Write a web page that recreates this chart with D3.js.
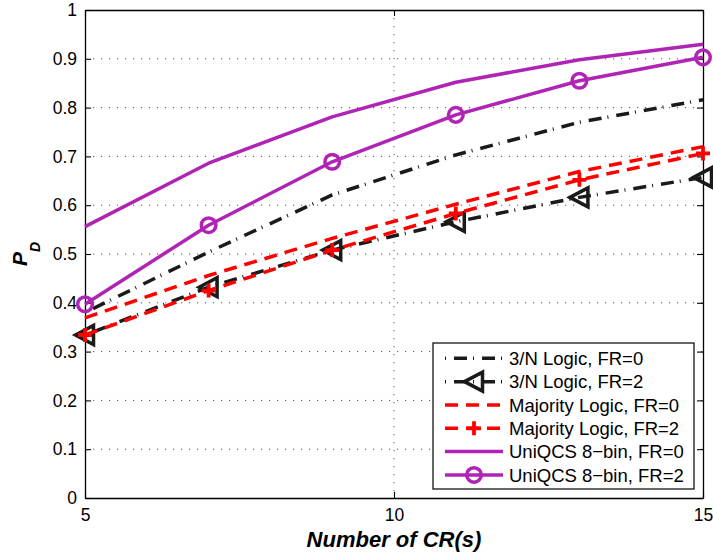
<!DOCTYPE html>
<html>
<head>
<meta charset="utf-8">
<script src="https://cdn.jsdelivr.net/npm/d3@7"></script>
<style>
  html, body { margin: 0; padding: 0; background: #fff; }
  svg { display: block; font-family: "Liberation Sans", Arial, Helvetica, sans-serif; }
</style>
</head>
<body>
<svg id="chart" width="713" height="559"></svg>
<script>
// Number of cognitive radios on the x axis
const crs = [5, 7, 9, 11, 13, 15];

// Detection probability per fusion rule
const logic3Fr0 = [0.380, 0.504, 0.621, 0.703, 0.770, 0.816];
const logic3Fr2 = [0.334, 0.432, 0.508, 0.566, 0.616, 0.657];
const majorityFr0 = [0.369, 0.456, 0.532, 0.602, 0.669, 0.720];
const majorityFr2 = [0.334, 0.425, 0.508, 0.583, 0.652, 0.706];
const uniqcsFr0 = [0.556, 0.686, 0.781, 0.852, 0.898, 0.930];
const uniqcsFr2 = [0.397, 0.559, 0.689, 0.785, 0.855, 0.903];

const seriesNames = [
  "3/N Logic, FR=0",
  "3/N Logic, FR=2",
  "Majority Logic, FR=0",
  "Majority Logic, FR=2",
  "UniQCS 8\u2212bin, FR=0",
  "UniQCS 8\u2212bin, FR=2"
];

const xTickValues = [5, 10, 15];
const yTickValues = [0, 0.1, 0.2, 0.3, 0.4, 0.5, 0.6, 0.7, 0.8, 0.9, 1];
const xTitle = "Number of CR(s)";

const BLACK = "#1a1a1a", RED = "#ff0000", PURPLE = "#b024b5";
const DASHDOT = "1,8,13,6", DASHED = "13,8";
const LW = 3.5;

const series = [
  { name: seriesNames[0], values: logic3Fr0, color: BLACK, dash: DASHDOT, marker: null },
  { name: seriesNames[1], values: logic3Fr2, color: BLACK, dash: DASHDOT, marker: "tri" },
  { name: seriesNames[2], values: majorityFr0, color: RED, dash: DASHED, marker: null },
  { name: seriesNames[3], values: majorityFr2, color: RED, dash: DASHED, marker: "plus" },
  { name: seriesNames[4], values: uniqcsFr0, color: PURPLE, dash: null, marker: null },
  { name: seriesNames[5], values: uniqcsFr2, color: PURPLE, dash: null, marker: "circle" }
];

const L = 85, R = 703, T = 10, B = 498;
const svg = d3.select("#chart");

const x = d3.scaleLinear().domain([5, 15]).range([L, R]);
const y = d3.scaleLinear().domain([0, 1]).range([B, T]);

// dotted grid
const grid = svg.append("g").attr("stroke", "#555").attr("stroke-width", 1)
  .attr("stroke-dasharray", "1.2,6.8");
grid.selectAll(".gy").data(yTickValues.filter(v => v > 0 && v < 1)).join("line")
  .attr("x1", L).attr("x2", R).attr("y1", d => y(d)).attr("y2", d => y(d));
grid.selectAll(".gx").data(xTickValues.filter(v => v > 5 && v < 15)).join("line")
  .attr("y1", T).attr("y2", B).attr("x1", d => x(d)).attr("x2", d => x(d));

// axes with inward ticks on all four sides
const fmtY = d => (d === 0 || d === 1) ? String(d) : d3.format(".1f")(d);
const axes = [
  svg.append("g").attr("transform", `translate(${L},0)`)
    .call(d3.axisLeft(y).tickValues(yTickValues).tickFormat(fmtY).tickSizeInner(-6).tickSizeOuter(0).tickPadding(8)),
  svg.append("g").attr("transform", `translate(0,${B})`)
    .call(d3.axisBottom(x).tickValues(xTickValues).tickFormat(d3.format("d")).tickSizeInner(-6).tickSizeOuter(0).tickPadding(11)),
  svg.append("g").attr("transform", `translate(${R},0)`)
    .call(d3.axisRight(y).tickValues(yTickValues).tickFormat("").tickSizeInner(-6).tickSizeOuter(0)),
  svg.append("g").attr("transform", `translate(0,${T})`)
    .call(d3.axisTop(x).tickValues(xTickValues).tickFormat("").tickSizeInner(-6).tickSizeOuter(0))
];
axes.forEach(g => {
  g.select(".domain").attr("stroke", "#000").attr("stroke-width", 1.3);
  g.selectAll(".tick line").attr("stroke", "#000").attr("stroke-width", 1.1);
  g.selectAll(".tick text").attr("fill", "#000").style("font-size", "17.5px")
    .style("font-family", "'Liberation Sans', Arial, sans-serif");
});

// marker shapes
function drawMarker(sel, type, color) {
  if (type === "tri") {
    sel.append("path").attr("d", "M-9.5,0L8.5,-9.5L8.5,9.5Z")
      .attr("fill", "none").attr("stroke", color).attr("stroke-width", LW).attr("stroke-linejoin", "miter");
  } else if (type === "plus") {
    sel.append("path").attr("d", "M-7,0H7M0,-7V7")
      .attr("fill", "none").attr("stroke", color).attr("stroke-width", 3.8);
  } else if (type === "circle") {
    sel.append("circle").attr("r", 7.3)
      .attr("fill", "none").attr("stroke", color).attr("stroke-width", LW);
  }
}

// lines and markers
const line = d3.line().x((d, i) => x(crs[i])).y(d => y(d));
const plot = svg.append("g");
series.forEach(s => {
  plot.append("path").datum(s.values).attr("d", line)
    .attr("fill", "none").attr("stroke", s.color).attr("stroke-width", LW)
    .attr("stroke-dasharray", s.dash).attr("stroke-linejoin", "round");
  if (s.marker) {
    s.values.forEach((v, i) => {
      const m = plot.append("g").attr("transform", `translate(${x(crs[i])},${y(v)})`);
      drawMarker(m, s.marker, s.color);
    });
  }
});

// legend
const lg = svg.append("g");
lg.append("rect").attr("x", 433).attr("y", 343).attr("width", 261).attr("height", 146)
  .attr("fill", "#fff").attr("stroke", "#000").attr("stroke-width", 1.2);
series.forEach((s, i) => {
  const cy = 358.3 + i * 23.33;
  lg.append("line").attr("x1", 445).attr("x2", 503).attr("y1", cy).attr("y2", cy)
    .attr("stroke", s.color).attr("stroke-width", LW).attr("stroke-dasharray", s.dash);
  if (s.marker) {
    const m = lg.append("g").attr("transform", `translate(474,${cy})`);
    drawMarker(m, s.marker, s.color);
  }
  lg.append("text").attr("x", 509).attr("y", cy).attr("dy", "0.36em")
    .style("font-size", "18.5px").attr("fill", "#000").text(s.name);
});

// axis titles
svg.append("text").attr("x", (L + R) / 2).attr("y", 547)
  .attr("text-anchor", "middle").style("font-size", "22px")
  .style("font-weight", "bold").style("font-style", "italic").attr("fill", "#000")
  .text(xTitle);

const yt = svg.append("text").attr("transform", `translate(27,${(T + B) / 2}) rotate(-90)`)
  .attr("text-anchor", "middle").style("font-weight", "bold").style("font-style", "italic")
  .attr("fill", "#000");
yt.append("tspan").style("font-size", "21px").text("P");
yt.append("tspan").style("font-size", "14px").attr("dy", 13).text("D");
</script>
</body>
</html>
